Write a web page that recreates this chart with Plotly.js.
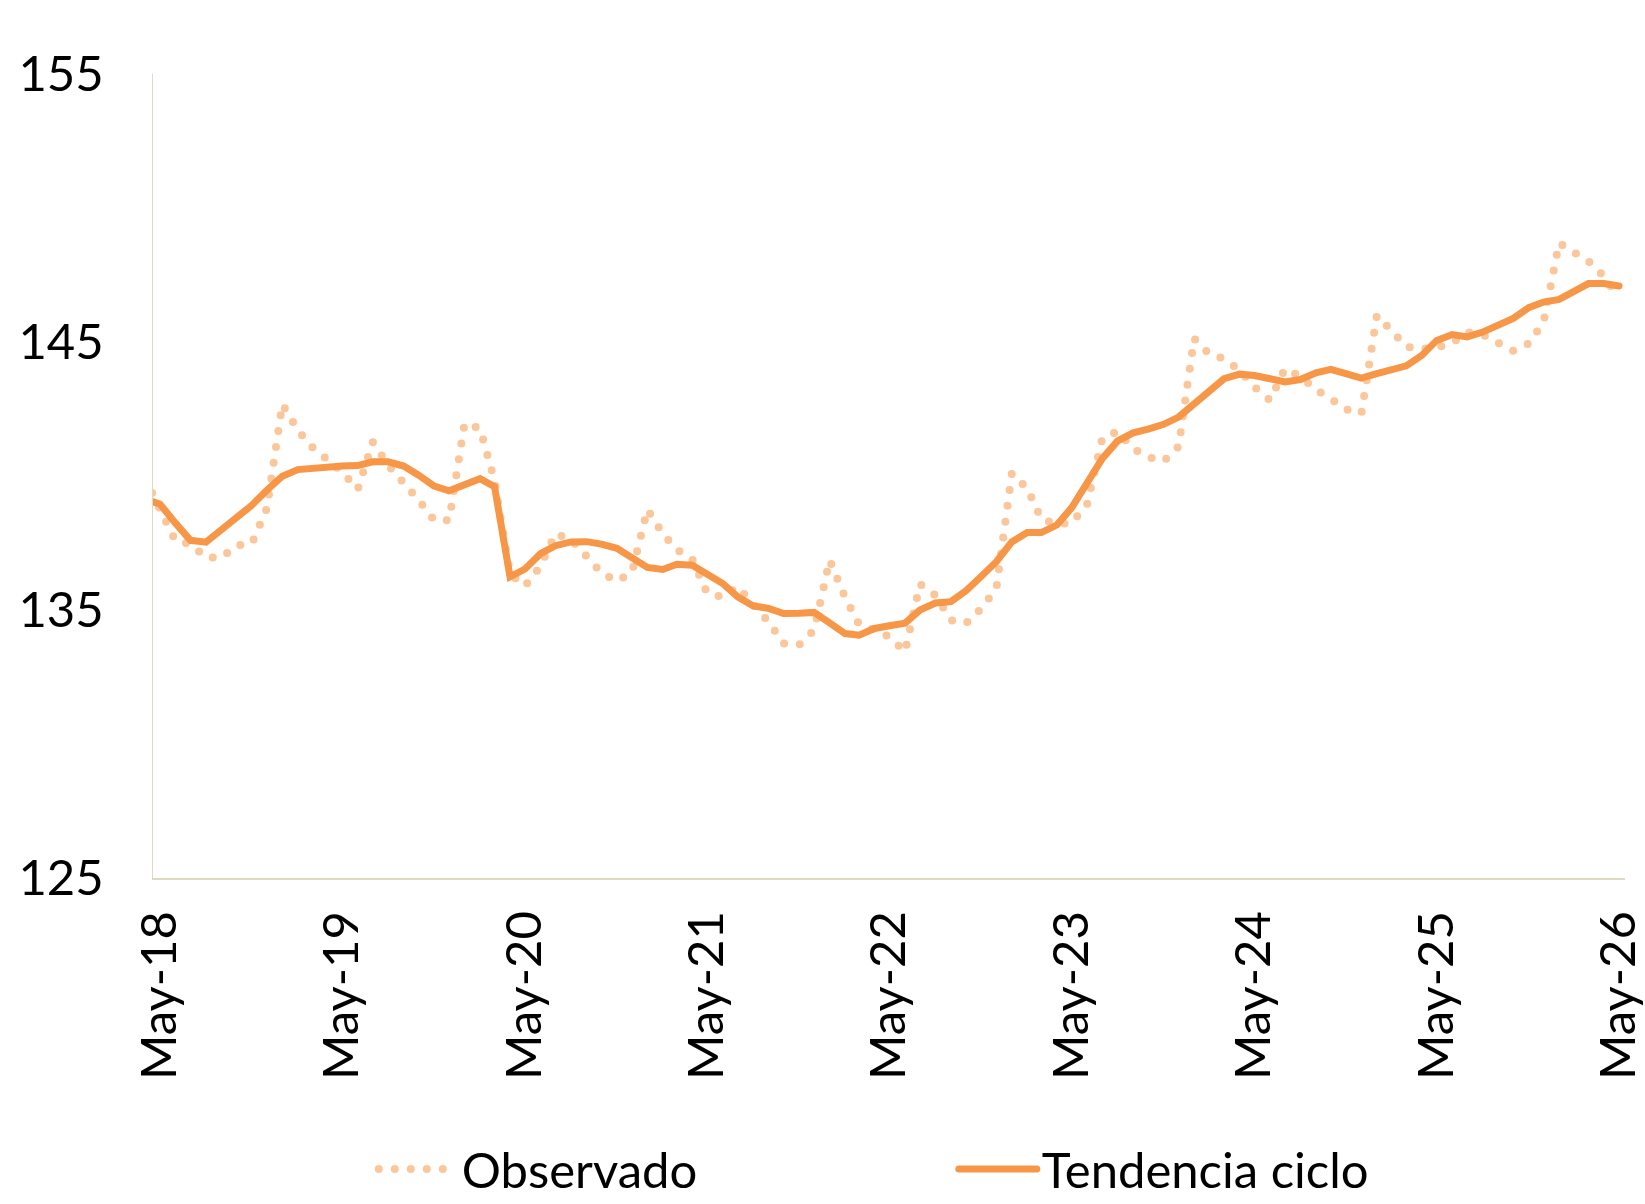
<!DOCTYPE html>
<html>
<head>
<meta charset="utf-8">
<script src="https://cdn.plot.ly/plotly-3.0.1.min.js"></script>
<style>
  html, body { margin: 0; padding: 0; background: #ffffff; }
  #chart { width: 1645px; height: 1204px; }
  .js-line { stroke-linecap: round; }
</style>
</head>
<body>
<div id="chart"></div>
<script>
// Months (first day of each month), Apr-2018 .. May-2026
const months = [
  '2018-04-01','2018-05-01','2018-06-01','2018-07-01','2018-08-01','2018-09-01','2018-10-01','2018-11-01','2018-12-01',
  '2019-01-01','2019-02-01','2019-03-01','2019-04-01','2019-05-01','2019-06-01','2019-07-01','2019-08-01','2019-09-01','2019-10-01','2019-11-01','2019-12-01',
  '2020-01-01','2020-02-01','2020-03-01','2020-04-01','2020-05-01','2020-06-01','2020-07-01','2020-08-01','2020-09-01','2020-10-01','2020-11-01','2020-12-01',
  '2021-01-01','2021-02-01','2021-03-01','2021-04-01','2021-05-01','2021-06-01','2021-07-01','2021-08-01','2021-09-01','2021-10-01','2021-11-01','2021-12-01',
  '2022-01-01','2022-02-01','2022-03-01','2022-04-01','2022-05-01','2022-06-01','2022-07-01','2022-08-01','2022-09-01','2022-10-01','2022-11-01','2022-12-01',
  '2023-01-01','2023-02-01','2023-03-01','2023-04-01','2023-05-01','2023-06-01','2023-07-01','2023-08-01','2023-09-01','2023-10-01','2023-11-01','2023-12-01',
  '2024-01-01','2024-02-01','2024-03-01','2024-04-01','2024-05-01','2024-06-01','2024-07-01','2024-08-01','2024-09-01','2024-10-01','2024-11-01','2024-12-01',
  '2025-01-01','2025-02-01','2025-03-01','2025-04-01','2025-05-01','2025-06-01','2025-07-01','2025-08-01','2025-09-01','2025-10-01','2025-11-01','2025-12-01',
  '2026-01-01','2026-02-01','2026-03-01','2026-04-01','2026-05-01'
];

const observado = [
  139.90,
  138.70, 137.58, 137.47, 136.96, 136.95, 137.41, 137.48, 138.79, 142.68, 141.71, 141.09, 140.65,
  140.15, 139.50, 141.27, 140.40, 139.78, 139.10, 138.35, 138.35, 141.96, 141.77, 139.82, 136.36,
  135.89, 136.64, 137.85, 137.63, 137.01, 136.39, 136.08, 136.39, 138.75, 137.85, 137.25, 136.89,
  135.62, 135.49, 135.87, 135.18, 134.56, 133.75, 133.70, 134.25, 136.86, 135.47, 134.47, 134.25,
  134.00, 133.44, 135.97, 135.55, 134.62, 134.50, 135.06, 135.80, 140.10, 139.53, 138.40, 138.20,
  138.25, 138.97, 141.40, 141.67, 141.02, 140.71, 140.55, 141.10, 145.13, 144.54, 144.38, 143.95,
  143.32, 142.83, 144.00, 143.72, 143.22, 142.88, 142.48, 142.33, 145.99, 145.39, 144.82, 144.75,
  144.79, 144.97, 145.37, 145.28, 144.99, 144.67, 144.94, 145.75, 148.70, 148.38, 148.01, 147.45,
  146.62
];

const tendenciaCiclo = [
  139.14,
  138.95, 138.24, 137.60, 137.53, 138.00, 138.45, 138.91, 139.47, 139.99, 140.24, 140.29, 140.35,
  140.37, 140.39, 140.53, 140.53, 140.37, 140.03, 139.62, 139.45, 139.69, 139.90, 139.60, 136.24,
  136.53, 137.10, 137.40, 137.54, 137.55, 137.46, 137.30, 136.98, 136.59, 136.51, 136.71, 136.67,
  136.34, 135.99, 135.49, 135.15, 135.06, 134.87, 134.88, 134.91, 134.52, 134.12, 134.06, 134.31,
  134.41, 134.51, 135.00, 135.26, 135.31, 135.72, 136.26, 136.80, 137.54, 137.89, 137.89, 138.17,
  138.82, 139.72, 140.65, 141.31, 141.61, 141.75, 141.93, 142.20, 142.71, 143.17, 143.63, 143.80,
  143.75, 143.63, 143.51, 143.60, 143.85, 143.98, 143.82, 143.65, 143.82, 143.97, 144.11, 144.50,
  145.06, 145.28, 145.19, 145.37, 145.62, 145.88, 146.28, 146.49, 146.59, 146.87, 147.18, 147.18,
  147.09
];

const tickDates = ['2018-05-01','2019-05-01','2020-05-01','2021-05-01','2022-05-01','2023-05-01','2024-05-01','2025-05-01','2026-05-01'];
const tickLabels = ['May-18','May-19','May-20','May-21','May-22','May-23','May-24','May-25','May-26'];
const yTicks = [125, 135, 145, 155];
const seriesNames = ['Observado', 'Tendencia ciclo'];

const FONT = 'Lato, "Open Sans", sans-serif';
const FONT_SIZE = 49;
const AXIS_COLOR = '#DDD9C3';
const TARGET_B = 326;   // bottom margin wanted for the plot area

const traces = [
  {
    type: 'scatter', mode: 'lines', name: seriesNames[0],
    x: months, y: observado,
    line: { color: '#FBC69A', width: 8, dash: '0px,16px' },
    hoverinfo: 'skip'
  },
  {
    type: 'scatter', mode: 'lines', name: seriesNames[1],
    x: months, y: tendenciaCiclo,
    line: { color: '#F79646', width: 7 },
    hoverinfo: 'skip'
  }
];

const layout = {
  width: 1645, height: 1204, autosize: false,
  paper_bgcolor: '#ffffff', plot_bgcolor: '#ffffff',
  margin: { l: 153, r: 20, t: 73.5, b: TARGET_B, pad: 0 },
  font: { family: FONT, size: FONT_SIZE, color: '#000000' },
  showlegend: true,
  legend: {
    orientation: 'h',
    x: 0.150, xanchor: 'left', xref: 'paper',
    y: 0.029, yanchor: 'middle', yref: 'container',
    itemwidth: 78,
    entrywidth: 487, entrywidthmode: 'pixels',
    font: { family: FONT, size: FONT_SIZE, color: '#000000' },
    bgcolor: 'rgba(0,0,0,0)', borderwidth: 0,
    traceorder: 'normal'
  },
  xaxis: {
    type: 'date',
    range: ['2018-04-17', '2026-05-13'],
    tickmode: 'array', tickvals: tickDates, ticktext: tickLabels,
    tickangle: -90,
    ticks: '', showgrid: false, zeroline: false,
    showline: true, linecolor: AXIS_COLOR, linewidth: 1.5,
    ticklabelstandoff: 12,
    automargin: false,
    tickfont: { family: FONT, size: FONT_SIZE, color: '#000000' },
    fixedrange: true
  },
  yaxis: {
    range: [125, 155],
    tickmode: 'array', tickvals: yTicks, ticktext: yTicks.map(String),
    ticks: '', showgrid: false, zeroline: false,
    showline: true, linecolor: AXIS_COLOR, linewidth: 1.5,
    ticklabelstandoff: 38,
    automargin: false,
    tickfont: { family: FONT, size: FONT_SIZE, color: '#000000' },
    fixedrange: true
  }
};

Plotly.newPlot('chart', traces, layout, { staticPlot: true, displayModeBar: false }).then(function (gd) {
  // keep the plot area where it belongs if the legend reserved extra margin
  const s = gd._fullLayout._size;
  const actualB = 1204 - s.t - s.h;
  const extra = actualB - TARGET_B;
  if (Math.abs(extra) > 0.5) {
    return Plotly.relayout(gd, { 'margin.b': TARGET_B - extra });
  }
});
</script>
</body>
</html>
